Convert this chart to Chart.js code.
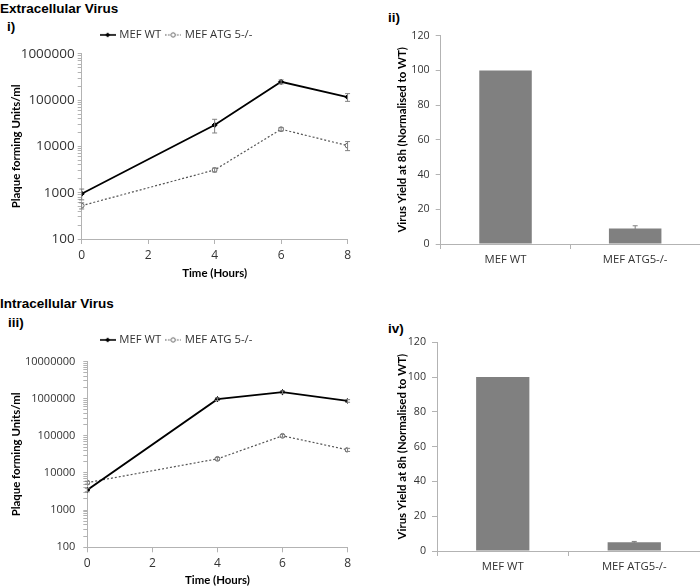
<!DOCTYPE html>
<html>
<head>
<meta charset="utf-8">
<script src="https://cdn.jsdelivr.net/npm/chart.js@4.4.0/dist/chart.umd.min.js"></script>
<style>
  body { margin: 0; width: 700px; height: 587px; overflow: hidden; background: #fff; position: relative; }
  .hd { position: absolute; font-family: "Liberation Sans", Arial, sans-serif; font-weight: bold; font-size: 13.5px; line-height: 13.5px; color: #000; white-space: nowrap; }
  .box { position: absolute; }
</style>
</head>
<body>
<div class="hd" style="left:0;top:2px">Extracellular Virus</div>
<div class="hd" style="left:7px;top:20px">i)</div>
<div class="hd" style="left:388px;top:11px">ii)</div>
<div class="hd" style="left:0;top:297px">Intracellular Virus</div>
<div class="hd" style="left:8px;top:316px">iii)</div>
<div class="hd" style="left:388px;top:322px">iv)</div>

<div class="box" style="left:0;top:20px;width:355px;height:265px"><canvas id="extraLine"></canvas></div>
<div class="box" style="left:350px;top:0;width:350px;height:290px"><canvas id="extraBar"></canvas></div>
<div class="box" style="left:0;top:310px;width:355px;height:284px"><canvas id="intraLine"></canvas></div>
<div class="box" style="left:350px;top:290px;width:350px;height:297px"><canvas id="intraBar"></canvas></div>

<script>
// time course (hours)
const timeHours = [0, 4, 6, 8];
const seriesNames = ["MEF WT", "MEF ATG 5-/-"];

// extracellular virus, pfu/ml
const extraWT = [950, 29000, 248000, 116000];
const extraWTErr = [250, 9500, 25000, 22000];
const extraATG5 = [525, 3100, 23500, 10400];
const extraATG5Err = [80, 300, 2000, 2300];
const extraTicks = [100, 1000, 10000, 100000, 1000000];

// intracellular virus, pfu/ml
const intraWT = [3500, 970000, 1500000, 870000];
const intraWTErr = [400, 80000, 120000, 70000];
const intraATG5 = [5500, 24000, 100000, 42000];
const intraATG5Err = [500, 2000, 8000, 4000];
const intraTicks = [100, 1000, 10000, 100000, 1000000, 10000000];

// yield at 8h, normalised to WT
const yieldCategories = ["MEF WT", "MEF ATG5-/-"];
const extraYield = [100, 9];
const extraYieldErr = [0, 1.5];
const intraYield = [100, 5];
const intraYieldErr = [0, 0.5];

Chart.defaults.font.family = "'Open Sans', sans-serif";
Chart.defaults.color = "#333";
Chart.defaults.animation = false;

const axisGray = "#b3b3b3";
const titleFont = { family: "Lato, sans-serif", size: 11.4, weight: "bold" };

// error bars drawn through the chart's own scales
const errorBarPlugin = {
  id: "errorBars",
  afterDatasetsDraw(chart) {
    const ctx = chart.ctx;
    const yScale = chart.scales.y;
    chart.data.datasets.forEach((ds, di) => {
      if (!ds.errorBars) return;
      const meta = chart.getDatasetMeta(di);
      meta.data.forEach((el, i) => {
        const err = ds.errorBars[i];
        if (!err) return;
        const v = typeof ds.data[i] === "object" ? ds.data[i].y : ds.data[i];
        const yTop = yScale.getPixelForValue(v + err);
        const yBot = yScale.getPixelForValue(Math.max(v - err, yScale.min));
        ctx.save();
        ctx.strokeStyle = "#808080";
        ctx.lineWidth = 1;
        ctx.beginPath();
        ctx.moveTo(el.x, yTop); ctx.lineTo(el.x, yBot);
        ctx.moveTo(el.x - 2.5, yTop); ctx.lineTo(el.x + 2.5, yTop);
        ctx.moveTo(el.x - 2.5, yBot); ctx.lineTo(el.x + 2.5, yBot);
        ctx.stroke();
        ctx.restore();
      });
    });
  }
};

// extra space under the legend
const legendGapPlugin = {
  id: "legendGap",
  beforeLayout(chart, args, opts) {
    const lg = chart.legend;
    if (!lg || lg._gapWrapped) return;
    const orig = lg.fit;
    lg.fit = function () { orig.call(this); this.height += opts.gap || 0; };
    lg._gapWrapped = true;
  }
};

function legendSymbol(solid) {
  const c = document.createElement("canvas");
  c.width = 16; c.height = 8;
  const g = c.getContext("2d");
  g.beginPath();
  if (solid) {
    g.strokeStyle = "#000"; g.lineWidth = 1.6;
  } else {
    g.strokeStyle = "#555"; g.lineWidth = 1; g.setLineDash([1.5, 1.5]);
  }
  g.moveTo(0, 4); g.lineTo(16, 4); g.stroke();
  g.setLineDash([]);
  if (solid) {
    g.fillStyle = "#000";
    g.beginPath(); g.moveTo(8, 1.5); g.lineTo(10.5, 4); g.lineTo(8, 6.5); g.lineTo(5.5, 4); g.closePath(); g.fill();
  } else {
    g.fillStyle = "#fff"; g.strokeStyle = "#666"; g.lineWidth = 1;
    g.beginPath(); g.arc(8, 4, 2.2, 0, Math.PI * 2); g.fill(); g.stroke();
  }
  return c;
}
const wtSymbol = legendSymbol(true);
const atgSymbol = legendSymbol(false);

function points(values) {
  return timeHours.map((t, i) => ({ x: t, y: values[i] }));
}

function makeLineChart(id, wt, wtErr, atg, atgErr, majorTicks, o) {
  const minV = majorTicks[0];
  const maxV = majorTicks[majorTicks.length - 1];
  new Chart(document.getElementById(id), {
    type: "line",
    data: {
      datasets: [
        {
          label: seriesNames[0], data: points(wt), errorBars: wtErr,
          borderColor: "#000", borderWidth: 1.8,
          pointStyle: "rectRot", pointRadius: 2.6,
          pointBackgroundColor: "#000", pointBorderColor: "#000", pointBorderWidth: 1
        },
        {
          label: seriesNames[1], data: points(atg), errorBars: atgErr,
          borderColor: "#555", borderWidth: 1.2, borderDash: [2, 2],
          pointStyle: "circle", pointRadius: 2.4,
          pointBackgroundColor: "#fff", pointBorderColor: "#666", pointBorderWidth: 1
        }
      ]
    },
    options: {
      responsive: true, maintainAspectRatio: false,
      layout: { padding: { top: o.top, left: 5, right: 6, bottom: o.bottom } },
      plugins: {
        tooltip: { enabled: false },
        legendGap: { gap: o.gap },
        legend: {
          position: "top",
          labels: {
            usePointStyle: true, pointStyleWidth: 12, padding: 6,
            font: { size: 11.3 }, color: "#333",
            generateLabels: () => [
              { text: seriesNames[0], pointStyle: wtSymbol, datasetIndex: 0, fontColor: "#333", lineWidth: 0 },
              { text: seriesNames[1], pointStyle: atgSymbol, datasetIndex: 1, fontColor: "#333", lineWidth: 0 }
            ]
          }
        }
      },
      scales: {
        x: {
          type: "linear", min: 0, max: 8,
          ticks: { stepSize: 2, font: { size: 12 }, color: "#333", padding: 4 },
          grid: { drawOnChartArea: false, tickLength: 5, color: axisGray },
          border: { color: axisGray },
          title: { display: true, text: "Time (Hours)", font: titleFont, color: "#000", padding: { top: 2, bottom: 4 } },
          afterFit: s => { s.height = o.xHeight; }
        },
        y: {
          type: "logarithmic", min: minV, max: maxV,
          afterBuildTicks: s => {
            const t = [];
            majorTicks.forEach((p, i) => {
              if (i === majorTicks.length - 1) { t.push({ value: p }); return; }
              for (let k = 1; k < 10; k++) t.push({ value: p * k });
            });
            s.ticks = t;
          },
          ticks: {
            autoSkip: false, padding: o.yPad, font: { size: o.yFont }, color: "#333",
            callback: v => (majorTicks.includes(v) ? String(v) : "")
          },
          grid: { drawOnChartArea: false, tickLength: 4, color: axisGray },
          border: { color: axisGray },
          title: { display: true, text: "Plaque forming Units/ml", font: titleFont, color: "#000" },
          afterFit: s => { s.width = o.yWidth; }
        }
      }
    },
    plugins: [errorBarPlugin, legendGapPlugin]
  });
}

function makeBarChart(id, values, errs, o) {
  new Chart(document.getElementById(id), {
    type: "bar",
    data: {
      labels: yieldCategories,
      datasets: [{
        data: values, errorBars: errs,
        backgroundColor: "#808080", borderWidth: 0,
        categoryPercentage: 1, barPercentage: 0.405
      }]
    },
    options: {
      responsive: true, maintainAspectRatio: false,
      layout: { padding: { top: o.top, left: 41, right: 0, bottom: o.bottom } },
      plugins: { legend: { display: false }, tooltip: { enabled: false } },
      scales: {
        x: {
          ticks: { font: { size: 11.3 }, color: "#333", padding: 4 },
          grid: { drawOnChartArea: false, tickLength: 5, color: axisGray },
          border: { color: axisGray },
          afterFit: s => { s.height = o.xHeight; }
        },
        y: {
          min: 0, max: 120,
          ticks: { stepSize: 20, font: { size: 10.7 }, color: "#333", padding: 6 },
          grid: { drawOnChartArea: false, tickLength: 5, color: axisGray },
          border: { color: axisGray },
          title: { display: true, text: "Virus Yield at 8h (Normalised to WT)", font: titleFont, color: "#000" },
          afterFit: s => { s.width = o.yWidth; }
        }
      }
    },
    plugins: [errorBarPlugin]
  });
}

makeLineChart("extraLine", extraWT, extraWTErr, extraATG5, extraATG5Err, extraTicks,
  { top: 3.25, gap: 3.25, bottom: 1, xHeight: 45, yWidth: 76.7, yFont: 13.5, yPad: 3 });
makeLineChart("intraLine", intraWT, intraWTErr, intraATG5, intraATG5Err, intraTicks,
  { top: 18.25, gap: 5.95, bottom: 3.1, xHeight: 43.6, yWidth: 82.3, yFont: 11, yPad: 8 });
makeBarChart("extraBar", extraYield, extraYieldErr, { top: 35.7, bottom: 6, xHeight: 40, yWidth: 49.7 });
makeBarChart("intraBar", intraYield, intraYieldErr, { top: 52.3, bottom: 6, xHeight: 30, yWidth: 46 });
</script>
</body>
</html>
